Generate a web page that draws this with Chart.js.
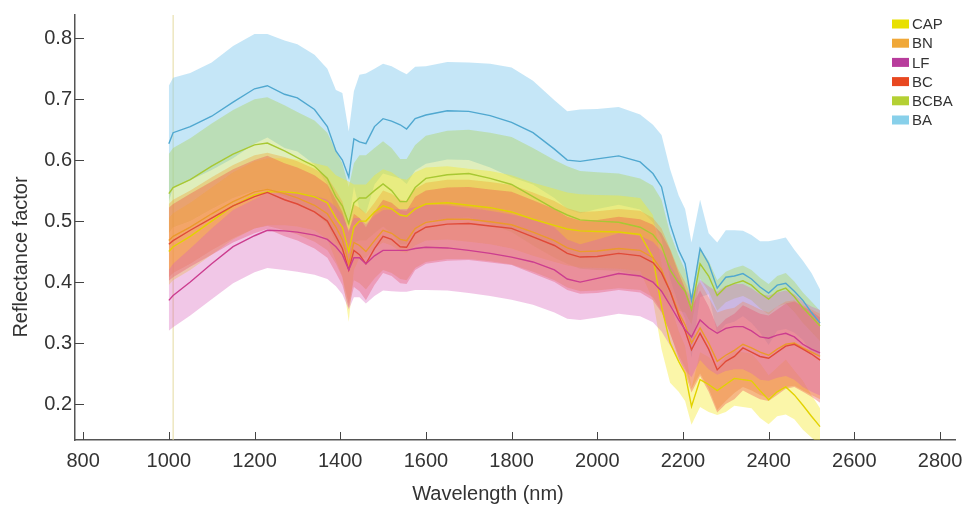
<!DOCTYPE html>
<html>
<head>
<meta charset="utf-8">
<script src="https://cdn.jsdelivr.net/npm/chart.js@4.4.1/dist/chart.umd.min.js"></script>
<style>
  html, body { margin: 0; padding: 0; background: #fff; }
  #wrap { width: 965px; height: 507px; position: relative; }
</style>
</head>
<body>
<div id="wrap"><canvas id="spectra"></canvas></div>
<script>
// Wavelengths (nm)
const wavelengths = [1000, 1010, 1050, 1100, 1150, 1200, 1230, 1270, 1300, 1340, 1370, 1390, 1405, 1420, 1432, 1445, 1460, 1480, 1500, 1520,
  1540, 1555, 1575, 1600, 1650, 1700, 1750, 1800, 1850, 1900, 1930, 1960, 2000, 2050, 2100, 2130, 2150, 2170, 2190, 2205,
  2220, 2240, 2260, 2280, 2300, 2320, 2340, 2360, 2380, 2400, 2420, 2440, 2460, 2480, 2500, 2520];

// Mean reflectance and spread of each class
const baMean = [0.627, 0.645, 0.655, 0.672, 0.695, 0.717, 0.722, 0.708, 0.702, 0.683, 0.655, 0.615, 0.600, 0.572, 0.635, 0.630, 0.627, 0.655, 0.668, 0.664,
  0.658, 0.651, 0.668, 0.674, 0.681, 0.680, 0.673, 0.662, 0.645, 0.618, 0.600, 0.598, 0.602, 0.607, 0.597, 0.578, 0.556, 0.495, 0.452, 0.430,
  0.370, 0.455, 0.430, 0.390, 0.408, 0.410, 0.414, 0.405, 0.392, 0.382, 0.395, 0.398, 0.385, 0.370, 0.350, 0.333];
const baSd = [0.095, 0.090, 0.088, 0.088, 0.092, 0.090, 0.085, 0.088, 0.088, 0.090, 0.095, 0.100, 0.110, 0.075, 0.078, 0.110, 0.115, 0.095, 0.090, 0.090,
  0.088, 0.090, 0.085, 0.080, 0.080, 0.080, 0.085, 0.090, 0.085, 0.080, 0.080, 0.085, 0.082, 0.080, 0.078, 0.080, 0.085, 0.090, 0.090, 0.090,
  0.095, 0.080, 0.050, 0.075, 0.077, 0.075, 0.070, 0.072, 0.075, 0.085, 0.075, 0.075, 0.068, 0.065, 0.065, 0.055];

const bcbaMean = [0.545, 0.555, 0.568, 0.590, 0.610, 0.625, 0.628, 0.615, 0.604, 0.590, 0.570, 0.540, 0.525, 0.496, 0.530, 0.538, 0.538, 0.550, 0.561, 0.550,
  0.532, 0.532, 0.555, 0.570, 0.576, 0.578, 0.570, 0.560, 0.540, 0.520, 0.510, 0.502, 0.500, 0.498, 0.490, 0.478, 0.460, 0.420, 0.398, 0.385,
  0.355, 0.430, 0.410, 0.378, 0.392, 0.398, 0.402, 0.395, 0.382, 0.372, 0.385, 0.390, 0.376, 0.358, 0.343, 0.328];
const bcbaSd = [0.065, 0.065, 0.068, 0.070, 0.072, 0.075, 0.075, 0.075, 0.075, 0.075, 0.075, 0.075, 0.070, 0.060, 0.065, 0.070, 0.070, 0.070, 0.070, 0.070,
  0.070, 0.070, 0.070, 0.070, 0.072, 0.072, 0.075, 0.078, 0.080, 0.080, 0.080, 0.080, 0.080, 0.080, 0.080, 0.080, 0.075, 0.060, 0.045, 0.035,
  0.025, 0.025, 0.025, 0.025, 0.025, 0.025, 0.025, 0.025, 0.025, 0.025, 0.025, 0.025, 0.025, 0.025, 0.025, 0.025];

const capMean = [0.450, 0.458, 0.475, 0.500, 0.525, 0.543, 0.548, 0.548, 0.546, 0.540, 0.530, 0.505, 0.490, 0.450, 0.490, 0.500, 0.500, 0.515, 0.525, 0.520,
  0.510, 0.508, 0.520, 0.528, 0.530, 0.526, 0.522, 0.515, 0.503, 0.493, 0.487, 0.484, 0.483, 0.482, 0.478, 0.440, 0.360, 0.300, 0.270, 0.250,
  0.196, 0.240, 0.232, 0.222, 0.232, 0.242, 0.240, 0.238, 0.222, 0.207, 0.220, 0.228, 0.215, 0.198, 0.180, 0.163];
const capSd = [0.055, 0.055, 0.055, 0.055, 0.055, 0.055, 0.055, 0.055, 0.055, 0.055, 0.060, 0.070, 0.080, 0.115, 0.070, 0.060, 0.060, 0.060, 0.060, 0.060,
  0.060, 0.060, 0.060, 0.060, 0.060, 0.060, 0.060, 0.060, 0.060, 0.060, 0.060, 0.060, 0.060, 0.060, 0.060, 0.070, 0.070, 0.065, 0.050, 0.045,
  0.030, 0.045, 0.045, 0.040, 0.045, 0.045, 0.045, 0.045, 0.045, 0.040, 0.040, 0.045, 0.040, 0.040, 0.035, 0.030];

const bnMean = [0.468, 0.475, 0.490, 0.512, 0.532, 0.548, 0.552, 0.545, 0.538, 0.526, 0.512, 0.490, 0.470, 0.430, 0.465, 0.460, 0.450, 0.468, 0.485, 0.480,
  0.470, 0.468, 0.488, 0.498, 0.503, 0.503, 0.499, 0.494, 0.482, 0.468, 0.456, 0.450, 0.451, 0.455, 0.452, 0.440, 0.420, 0.385, 0.350, 0.330,
  0.300, 0.325, 0.300, 0.270, 0.280, 0.288, 0.298, 0.292, 0.285, 0.280, 0.290, 0.298, 0.300, 0.292, 0.285, 0.278];
const bnSd = [0.060, 0.060, 0.060, 0.060, 0.060, 0.060, 0.060, 0.060, 0.060, 0.060, 0.060, 0.060, 0.062, 0.065, 0.062, 0.062, 0.062, 0.062, 0.065, 0.065,
  0.065, 0.065, 0.065, 0.065, 0.065, 0.065, 0.065, 0.065, 0.065, 0.065, 0.065, 0.065, 0.065, 0.065, 0.065, 0.065, 0.068, 0.070, 0.070, 0.070,
  0.075, 0.075, 0.075, 0.080, 0.075, 0.070, 0.070, 0.070, 0.070, 0.070, 0.070, 0.070, 0.070, 0.070, 0.070, 0.070];

const bcMean = [0.462, 0.468, 0.485, 0.505, 0.525, 0.540, 0.547, 0.535, 0.528, 0.515, 0.500, 0.475, 0.455, 0.420, 0.452, 0.445, 0.430, 0.455, 0.475, 0.470,
  0.458, 0.457, 0.480, 0.490, 0.495, 0.496, 0.492, 0.488, 0.474, 0.460, 0.447, 0.441, 0.442, 0.447, 0.443, 0.432, 0.415, 0.385, 0.345, 0.320,
  0.289, 0.316, 0.290, 0.256, 0.270, 0.278, 0.292, 0.285, 0.278, 0.275, 0.285, 0.295, 0.298, 0.290, 0.282, 0.272];
const bcSd = [0.060, 0.060, 0.060, 0.060, 0.060, 0.060, 0.060, 0.060, 0.060, 0.060, 0.060, 0.060, 0.060, 0.062, 0.060, 0.060, 0.060, 0.060, 0.060, 0.060,
  0.060, 0.060, 0.060, 0.060, 0.060, 0.060, 0.060, 0.060, 0.060, 0.060, 0.060, 0.060, 0.060, 0.060, 0.060, 0.062, 0.065, 0.068, 0.070, 0.070,
  0.070, 0.070, 0.070, 0.070, 0.070, 0.070, 0.070, 0.070, 0.070, 0.070, 0.070, 0.070, 0.070, 0.070, 0.070, 0.070];

const lfMean = [0.370, 0.378, 0.400, 0.430, 0.458, 0.476, 0.485, 0.484, 0.482, 0.477, 0.470, 0.458, 0.445, 0.420, 0.440, 0.440, 0.430, 0.443, 0.452, 0.452,
  0.452, 0.452, 0.455, 0.457, 0.456, 0.452, 0.447, 0.441, 0.433, 0.420, 0.405, 0.400, 0.406, 0.414, 0.410, 0.400, 0.385, 0.362, 0.338, 0.322,
  0.310, 0.338, 0.325, 0.316, 0.324, 0.327, 0.327, 0.320, 0.310, 0.308, 0.313, 0.316, 0.310, 0.298, 0.290, 0.284];
const lfSd = [0.050, 0.052, 0.055, 0.058, 0.060, 0.060, 0.062, 0.064, 0.065, 0.065, 0.065, 0.065, 0.065, 0.065, 0.065, 0.065, 0.065, 0.066, 0.066, 0.067,
  0.068, 0.068, 0.068, 0.070, 0.070, 0.070, 0.070, 0.070, 0.070, 0.070, 0.065, 0.062, 0.064, 0.066, 0.066, 0.066, 0.066, 0.066, 0.066, 0.066,
  0.066, 0.066, 0.068, 0.068, 0.070, 0.070, 0.070, 0.070, 0.070, 0.070, 0.070, 0.070, 0.070, 0.070, 0.070, 0.070];

// faint vertical marker line
const markerWavelength = 1010;

// Axis ranges and ticks
const xRange = [781, 2835];
const yRange = [0.141, 0.838];
const xStep = 200;
const yStep = 0.1;
const xTitle = 'Wavelength (nm)';
const yTitle = 'Reflectance factor';

// legend order (top to bottom)
const classNames = ['CAP', 'BN', 'LF', 'BC', 'BCBA', 'BA'];

const classes = {
    CAP:  { mean: capMean,  sd: capSd,  line: '#e2d200', fill: 'rgba(245,232,40,0.40)',  swatch: '#e8e000' },
    BN:   { mean: bnMean,   sd: bnSd,   line: '#eb9a2c', fill: 'rgba(240,165,50,0.38)',  swatch: '#f0a838' },
    LF:   { mean: lfMean,   sd: lfSd,   line: '#cc3d8f', fill: 'rgba(215,95,185,0.35)',  swatch: '#b83c9c' },
    BC:   { mean: bcMean,   sd: bcSd,   line: '#e04a38', fill: 'rgba(240,85,75,0.38)',   swatch: '#e84820' },
    BCBA: { mean: bcbaMean, sd: bcbaSd, line: '#a8c832', fill: 'rgba(170,210,80,0.38)',  swatch: '#b4d034' },
    BA:   { mean: baMean,   sd: baSd,   line: '#50a8d0', fill: 'rgba(140,205,240,0.50)', swatch: '#88d0ea' }
};

// bands are drawn bottom-up in this order
const bandOrder = ['BA', 'BCBA', 'CAP', 'BN', 'BC', 'LF'];

function points(values) {
    return values.map((v, i) => ({ x: wavelengths[i], y: v }));
}

function buildDatasets() {
    let sets = [];
    bandOrder.forEach((name, k) => {
        const c = classes[name];
        const upper = c.mean.map((m, i) => m + c.sd[i]);
        const lower = c.mean.map((m, i) => m - c.sd[i]);
        sets.push({
            label: name + ' upper', data: points(upper), fill: '+1', backgroundColor: c.fill,
            borderWidth: 0, pointRadius: 0, order: 20 - k
        });
        sets.push({
            label: name + ' lower', data: points(lower), fill: false,
            borderWidth: 0, pointRadius: 0, order: 20 - k
        });
    });
    bandOrder.forEach((name, k) => {
        const c = classes[name];
        sets.push({
            label: name, data: points(c.mean), fill: false, borderColor: c.line,
            borderWidth: 1.4, pointRadius: 0, order: 6 - k
        });
    });
    sets.push({
        label: 'marker', data: [{ x: markerWavelength, y: yRange[0] }, { x: markerWavelength, y: yRange[1] }],
        borderColor: 'rgba(225,215,150,0.9)', borderWidth: 1, pointRadius: 0, fill: false, order: 40
    });
    return sets;
}

const fontFamily = '"Liberation Sans", Arial, sans-serif';

// inward ticks, axis titles and the legend box in the corner
const decorations = {
    id: 'decorations',
    afterDraw(chart) {
        const ctx = chart.ctx;
        const xs = chart.scales.x, ys = chart.scales.y;
        const area = chart.chartArea;
        ctx.save();
        ctx.strokeStyle = '#444';
        ctx.lineWidth = 1;
        xs.ticks.forEach(t => {
            const px = Math.round(xs.getPixelForValue(t.value)) + 0.5;
            ctx.beginPath();
            ctx.moveTo(px, area.bottom);
            ctx.lineTo(px, area.bottom - 8);
            ctx.stroke();
        });
        ys.ticks.forEach(t => {
            const py = Math.round(ys.getPixelForValue(t.value)) + 0.5;
            ctx.beginPath();
            ctx.moveTo(area.left, py);
            ctx.lineTo(area.left + 9, py);
            ctx.stroke();
        });

        // axis titles (sit a little left / low of centre in the original)
        ctx.fillStyle = '#333';
        ctx.font = '20px ' + fontFamily;
        ctx.textAlign = 'center';
        ctx.textBaseline = 'middle';
        ctx.fillText(xTitle, 488, 494);
        ctx.save();
        ctx.translate(21, 257);
        ctx.rotate(-Math.PI / 2);
        ctx.fillText(yTitle, 0, 0);
        ctx.restore();

        // legend
        ctx.font = '15px ' + fontFamily;
        ctx.textAlign = 'left';
        classNames.forEach((name, i) => {
            const y = 24 + i * 19.2;
            ctx.fillStyle = classes[name].swatch;
            ctx.fillRect(892, y - 4.5, 17, 9);
            ctx.fillStyle = '#333';
            ctx.fillText(name, 912, y + 1);
        });
        ctx.restore();
    }
};

const tickFont = { size: 20, family: fontFamily };

const ctx = document.getElementById('spectra').getContext('2d');
const myChart = new Chart(ctx, {
    type: 'line',
    data: { datasets: buildDatasets() },
    options: {
        responsive: true,
        maintainAspectRatio: false,
        animation: false,
        layout: { padding: { top: 14, right: 10, left: 0, bottom: 0 } },
        elements: { line: { tension: 0 } },
        plugins: {
            legend: { display: false },
            tooltip: { enabled: false }
        },
        scales: {
            x: {
                type: 'linear',
                min: xRange[0], max: xRange[1],
                grid: { display: false, drawTicks: false },
                border: { display: true, color: '#555', width: 1.5 },
                ticks: {
                    stepSize: xStep, includeBounds: false, autoSkip: false, maxRotation: 0,
                    font: tickFont, color: '#333', padding: 9,
                    callback: v => String(v)
                },
                title: { display: false },
                afterFit(scale) {
                    scale.height = 67;
                    scale.paddingRight = 0;
                    scale.paddingLeft = 0;
                }
            },
            y: {
                type: 'linear',
                min: yRange[0], max: yRange[1],
                grid: { display: false, drawTicks: false },
                border: { display: true, color: '#555', width: 1.5 },
                ticks: {
                    stepSize: yStep, includeBounds: false,
                    font: tickFont, color: '#333', padding: 3,
                    callback: v => v.toFixed(1)
                },
                title: { display: false },
                afterFit(scale) { scale.width = 75; }
            }
        }
    },
    plugins: [decorations]
});
</script>
</body>
</html>
